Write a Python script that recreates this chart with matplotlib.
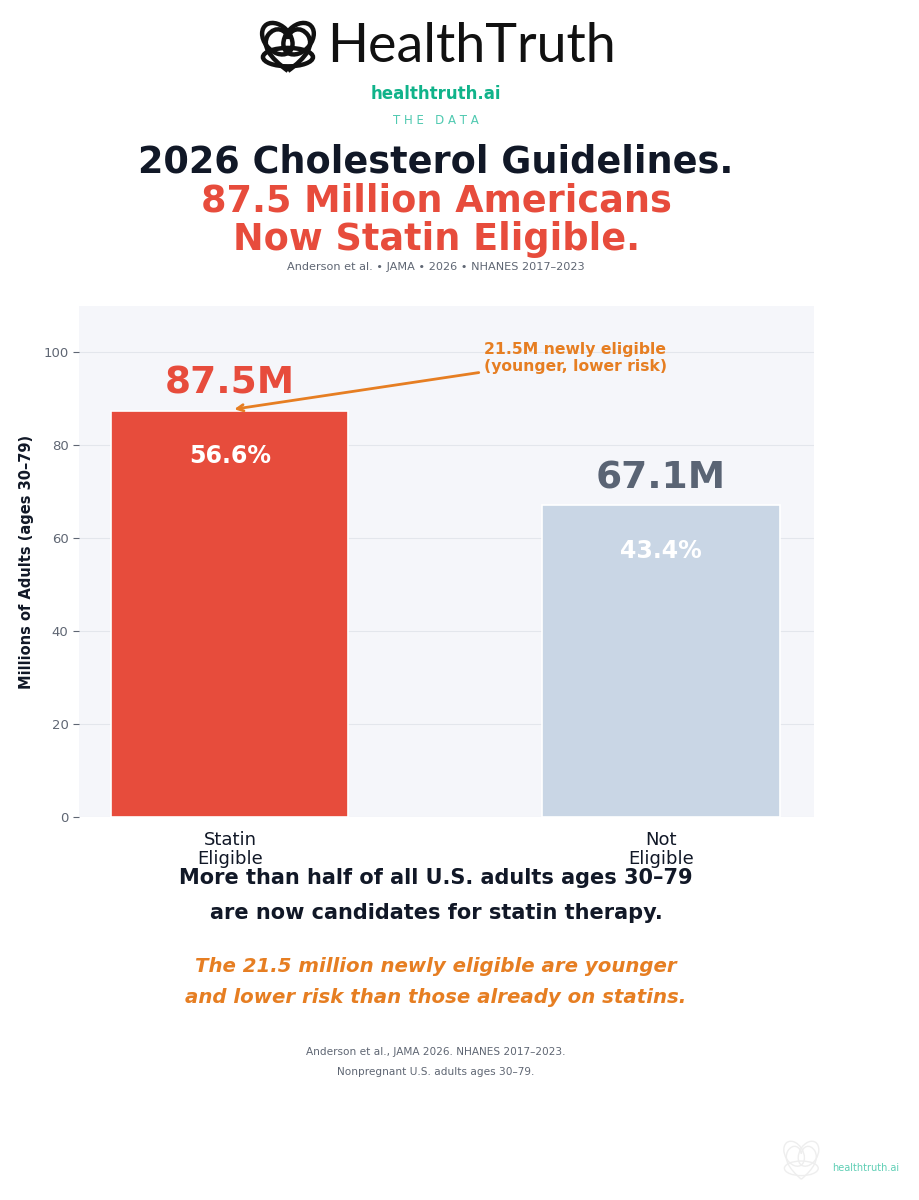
import numpy as np
import matplotlib

matplotlib.use("Agg")
import matplotlib.pyplot as plt
from matplotlib.patches import Ellipse, PathPatch
from matplotlib.path import Path

# data
categories = ["Statin\nEligible", "Not\nEligible"]
millions = [87.5, 67.1]
shares = [56.6, 43.4]
value_labels = ["87.5M", "67.1M"]
newly_eligible = 21.5
y_ticks = [0, 20, 40, 60, 80, 100]

RED = "#e74c3c"
BLUE = "#c9d6e5"
SLATE = "#5a6474"
NAVY = "#111827"
ORANGE = "#e67e22"
GREEN = "#10b38a"
GRAY = "#5f6673"
CX = 0.474  # horizontal centre of the page text

fig = plt.figure(figsize=(9.2, 12), dpi=100)
fig.patch.set_facecolor("white")

heart = Path(
    [(0.5, 0.06), (0.2, 0.3), (0.08, 0.5), (0.18, 0.68), (0.3, 0.86), (0.48, 0.78),
     (0.5, 0.62), (0.52, 0.78), (0.7, 0.86), (0.82, 0.68), (0.92, 0.5), (0.8, 0.3),
     (0.5, 0.06)],
    [Path.MOVETO] + [Path.CURVE4] * 12,
)


def draw_icon(a, color, lw):
    a.set_xlim(0, 1)
    a.set_ylim(0, 1)
    a.axis("off")
    a.add_patch(PathPatch(heart, fill=False, lw=lw, ec=color))
    a.add_patch(Ellipse((0.33, 0.62), 0.42, 0.6, angle=35, fill=False, lw=lw, ec=color))
    a.add_patch(Ellipse((0.67, 0.62), 0.42, 0.6, angle=-35, fill=False, lw=lw, ec=color))
    a.add_patch(Ellipse((0.5, 0.3), 0.8, 0.32, angle=0, fill=False, lw=lw, ec=color))


# logo
logo = fig.add_axes([0.279, 0.938, 0.068, 0.048])
draw_icon(logo, "#111111", 3.2)
fig.text(0.356, 0.961, "HealthTruth", fontsize=38.8, family="Lato", weight="normal",
         color="#111111", ha="left", va="center")
fig.text(CX, 0.922, "healthtruth.ai", fontsize=12, weight="bold", color=GREEN,
         ha="center", va="center")
fig.text(CX, 0.900, "T H E   D A T A", fontsize=8.5, color="#4fc9b0",
         ha="center", va="center")

# title
fig.text(CX, 0.865, "2026 Cholesterol Guidelines.", fontsize=26.4, weight="bold",
         color=NAVY, ha="center", va="center")
fig.text(CX, 0.8325, "87.5 Million Americans", fontsize=26.4, weight="bold",
         color=RED, ha="center", va="center")
fig.text(CX, 0.800, "Now Statin Eligible.", fontsize=26.4, weight="bold",
         color=RED, ha="center", va="center")
fig.text(CX, 0.7775, "Anderson et al. \u2022 JAMA \u2022 2026 \u2022 NHANES 2017\u20132023",
         fontsize=8.1, color=GRAY, ha="center", va="center")

# chart
ax = fig.add_axes([0.0859, 0.319, 0.799, 0.426])
ax.set_facecolor("#f5f6fa")
x = np.arange(len(categories))
ax.bar(x, millions, width=0.55, color=[RED, BLUE], edgecolor="white",
       linewidth=1.2, zorder=3)
ax.set_xlim(-0.35, 1.355)
ax.set_ylim(0, 110)
ax.set_yticks(y_ticks)
ax.set_xticks(x)
ax.set_xticklabels(categories, fontsize=13, color=NAVY, linespacing=1.1)
ax.tick_params(axis="y", colors=GRAY, labelsize=9.5, length=4)
ax.tick_params(axis="x", length=0, pad=10)
ax.grid(axis="y", color="#e3e6ec", linewidth=0.8, zorder=0)
for s in ax.spines.values():
    s.set_visible(False)
ax.set_ylabel("Millions of Adults (ages 30\u201379)", fontsize=10.5, weight="bold",
              color=NAVY, labelpad=7)

label_colors = [RED, SLATE]
for xi, val, lab, share, c in zip(x, millions, value_labels, shares, label_colors):
    ax.text(xi, val + 2, lab, fontsize=27, weight="bold", color=c,
            ha="center", va="bottom", zorder=4)
    ax.text(xi, val - 9.8, f"{share}%", fontsize=17, weight="bold", color="white",
            ha="center", va="center", zorder=4)

ax.annotate(f"{newly_eligible}M newly eligible\n(younger, lower risk)",
            xy=(0.01, millions[0] + 0.3), xytext=(0.59, 98.8),
            fontsize=11.25, weight="bold", color=ORANGE, ha="left", va="center",
            linespacing=1.15, zorder=5,
            arrowprops=dict(arrowstyle="->", color=ORANGE, lw=2, shrinkA=2, shrinkB=0))

# bottom text
fig.text(CX, 0.268, "More than half of all U.S. adults ages 30\u201379", fontsize=15,
         weight="bold", color=NAVY, ha="center", va="center")
fig.text(CX, 0.2395, "are now candidates for statin therapy.", fontsize=15,
         weight="bold", color=NAVY, ha="center", va="center")
fig.text(CX, 0.195, "The 21.5 million newly eligible are younger", fontsize=14.2,
         weight="bold", style="italic", color=ORANGE, ha="center", va="center")
fig.text(CX, 0.1685, "and lower risk than those already on statins.", fontsize=14.2,
         weight="bold", style="italic", color=ORANGE, ha="center", va="center")
fig.text(CX, 0.1235, "Anderson et al., JAMA 2026. NHANES 2017\u20132023.", fontsize=7.6,
         color=GRAY, ha="center", va="center")
fig.text(CX, 0.1065, "Nonpregnant U.S. adults ages 30\u201379.", fontsize=7.6,
         color=GRAY, ha="center", va="center")

# watermark
wm = fig.add_axes([0.848, 0.015, 0.046, 0.038])
draw_icon(wm, "#eeeeee", 1.0)
fig.text(0.905, 0.0265, "healthtruth.ai", fontsize=7, color="#5fcfb5",
         ha="left", va="center")

fig.savefig("out.png", dpi=100, facecolor="white")
